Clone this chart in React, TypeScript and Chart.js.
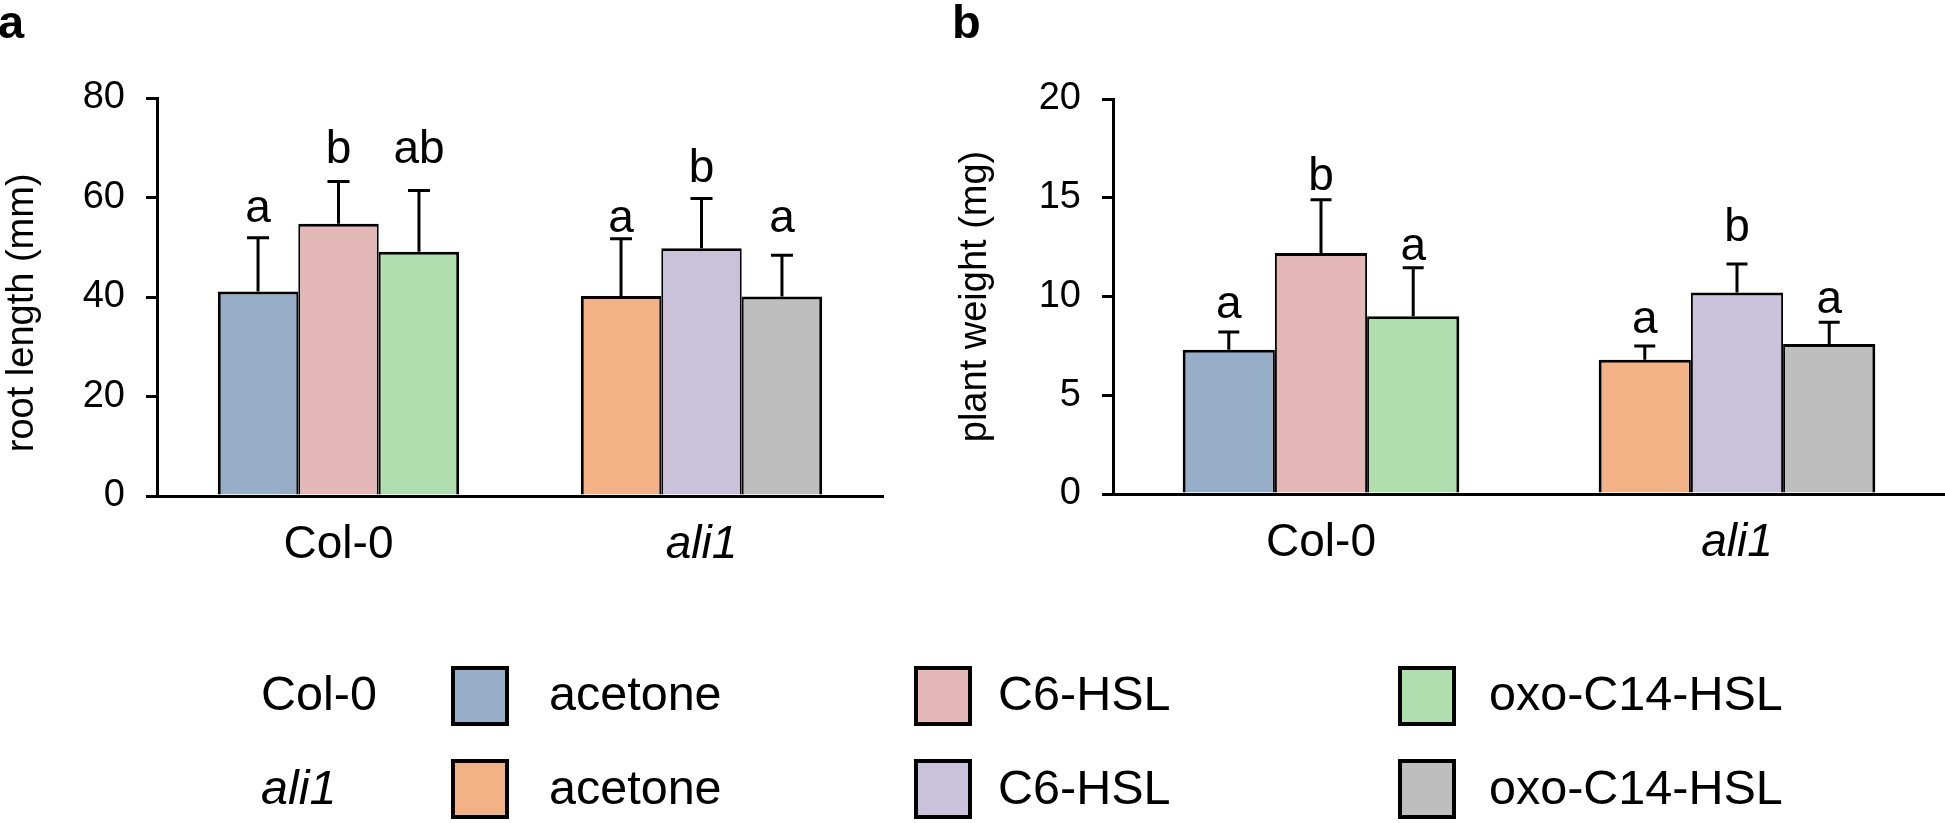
import React, { useEffect, useRef } from "react";
import { Chart, registerables } from "chart.js";

Chart.register(...registerables);

const FONT = '"Liberation Sans", Arial, Helvetica, sans-serif';

// ---------- data ----------
const categories = ["Col-0", "ali1"];
const treatments = ["acetone", "C6-HSL", "oxo-C14-HSL"];

// fill colours: [treatment] -> [Col-0, ali1]
const acetoneColors = ["#97AEC8", "#F2B286"];
const c6Colors = ["#E5B8B8", "#CAC1DA"];
const oxoColors = ["#B0DEAE", "#BEBEBE"];

// panel a: root length (mm)
const rootAcetone = [41.1, 40.2];
const rootC6 = [54.7, 49.8];
const rootOxo = [49.1, 40.1];
const rootErrAcetone = [10.8, 11.5];
const rootErrC6 = [8.5, 10.0];
const rootErrOxo = [12.3, 8.3];
const rootLettersAcetone = ["a", "a"];
const rootLettersC6 = ["b", "b"];
const rootLettersOxo = ["ab", "a"];
const rootLetterPosAcetone = [55.1, 53.1];
const rootLetterPosC6 = [66.9, 63.2];
const rootLetterPosOxo = [66.9, 53.0];
const rootTicks = { min: 0, max: 80, step: 20 };

// panel b: plant weight (mg)
const weightAcetone = [7.3, 6.8];
const weightC6 = [12.2, 10.2];
const weightOxo = [9.0, 7.6];
const weightErrAcetone = [0.9, 0.7];
const weightErrC6 = [2.7, 1.45];
const weightErrOxo = [2.45, 1.1];
const weightLettersAcetone = ["a", "a"];
const weightLettersC6 = ["b", "b"];
const weightLettersOxo = ["a", "a"];
const weightLetterPosAcetone = [8.9, 8.15];
const weightLetterPosC6 = [15.4, 12.8];
const weightLetterPosOxo = [11.85, 9.15];
const weightTicks = { min: 0, max: 20, step: 5 };

// legend
const legendRows = ["Col-0", "ali1"];
const legendColors = [
  [acetoneColors[0], c6Colors[0], oxoColors[0]],
  [acetoneColors[1], c6Colors[1], oxoColors[1]],
];

// ---------- plugin ----------
const errLettersPlugin = {
  id: "errLetters",
  afterDatasetsDraw(chart: any, _args: any, opts: any) {
    const { ctx } = chart;
    const yScale = chart.scales.y;
    chart.data.datasets.forEach((ds: any, di: number) => {
      const meta = chart.getDatasetMeta(di);
      meta.data.forEach((bar: any, i: number) => {
        const v = ds.data[i];
        const top = yScale.getPixelForValue(v + opts.errors[di][i]);
        const x = bar.x;
        ctx.save();
        ctx.strokeStyle = "#000";
        ctx.lineWidth = 3;
        ctx.beginPath();
        ctx.moveTo(x, bar.y);
        ctx.lineTo(x, top);
        ctx.moveTo(x - opts.cap, top);
        ctx.lineTo(x + opts.cap, top);
        ctx.stroke();
        ctx.fillStyle = "#000";
        ctx.font = `46px ${FONT}`;
        ctx.textAlign = "center";
        ctx.textBaseline = "alphabetic";
        ctx.fillText(opts.letters[di][i], x, yScale.getPixelForValue(opts.letterPos[di][i]));
        ctx.restore();
      });
    });
  },
};

type PanelProps = {
  left: number;
  width: number;
  height: number;
  yWidth: number;
  top: number;
  bottom: number;
  padRight: number;
  title: string;
  titlePad: number;
  values: number[][];
  errors: number[][];
  letters: string[][];
  letterPos: number[][];
  ticks: { min: number; max: number; step: number };
  cap: number;
};

function Panel(p: PanelProps) {
  const ref = useRef<HTMLCanvasElement>(null);
  useEffect(() => {
    if (!ref.current) return;
    const colorSets = [acetoneColors, c6Colors, oxoColors];
    const bw = [
      { top: 3, left: 3, right: 2, bottom: 0 },
      { top: 3, left: 2, right: 2, bottom: 0 },
      { top: 3, left: 2, right: 3, bottom: 0 },
    ];
    const chart = new Chart(ref.current, {
      type: "bar",
      data: {
        labels: categories,
        datasets: treatments.map((t, i) => ({
          label: t,
          data: p.values[i],
          backgroundColor: colorSets[i],
          borderColor: "#000",
          borderWidth: bw[i],
          borderSkipped: false,
          categoryPercentage: 0.665,
          barPercentage: 1,
        })),
      },
      options: {
        responsive: false,
        animation: false,
        devicePixelRatio: 1,
        layout: { padding: { top: p.top, right: p.padRight, left: 0, bottom: 0 } },
        plugins: {
          legend: { display: false },
          tooltip: { enabled: false },
          errLetters: { errors: p.errors, letters: p.letters, letterPos: p.letterPos, cap: p.cap },
        } as any,
        scales: {
          x: {
            grid: { display: false, drawTicks: false },
            border: { display: true, color: "#000", width: 3 },
            ticks: {
              color: "#000",
              padding: 22,
              font: (c: any) => ({ family: FONT, size: 46, style: c.index === 1 ? "italic" : "normal" }),
            },
            afterFit: (s: any) => {
              s.height = p.height - p.bottom;
            },
          },
          y: {
            min: p.ticks.min,
            max: p.ticks.max,
            grid: { drawOnChartArea: false, drawTicks: true, tickLength: 11, color: "#000", lineWidth: 3 },
            border: { display: true, color: "#000", width: 3 },
            ticks: { stepSize: p.ticks.step, color: "#000", padding: 21, font: { family: FONT, size: 38 } },
            title: {
              display: true,
              text: p.title,
              color: "#000",
              font: { family: FONT, size: 38 },
              padding: { top: p.titlePad, bottom: 0 },
            },
            afterFit: (s: any) => {
              s.width = p.yWidth;
            },
          },
        },
      },
      plugins: [errLettersPlugin],
    } as any);
    return () => chart.destroy();
  }, []);
  return (
    <canvas
      ref={ref}
      width={p.width}
      height={p.height}
      style={{ position: "absolute", left: p.left, top: 0, width: p.width, height: p.height, display: "block" }}
    />
  );
}

const textStyle = (left: number, baseline: number, size: number, extra: any = {}) => ({
  position: "absolute" as const,
  left,
  top: baseline - 0.8465 * size,
  fontFamily: FONT,
  fontSize: size,
  lineHeight: `${size}px`,
  color: "#000",
  whiteSpace: "nowrap" as const,
  ...extra,
});

export default function App() {
  const rowBaselines = [710, 804];
  const boxTops = [666, 759];
  const boxLefts = [451, 914, 1398];
  const textLefts = [549, 998, 1489];
  const LEG = 48.5;
  return (
    <div
      style={{
        position: "absolute",
        left: 0,
        top: 0,
        width: 1945,
        height: 823,
        background: "#fff",
        overflow: "hidden",
      }}
    >
      <Panel
        left={0}
        width={945}
        height={600}
        yWidth={157}
        top={98}
        bottom={496}
        padRight={62}
        title="root length (mm)   "
        titlePad={0}
        values={[rootAcetone, rootC6, rootOxo]}
        errors={[rootErrAcetone, rootErrC6, rootErrOxo]}
        letters={[rootLettersAcetone, rootLettersC6, rootLettersOxo]}
        letterPos={[rootLetterPosAcetone, rootLetterPosC6, rootLetterPosOxo]}
        ticks={rootTicks}
        cap={11}
      />
      <Panel
        left={945}
        width={1000}
        height={600}
        yWidth={168}
        top={99}
        bottom={494}
        padRight={0}
        title="plant weight (mg)"
        titlePad={8}
        values={[weightAcetone, weightC6, weightOxo]}
        errors={[weightErrAcetone, weightErrC6, weightErrOxo]}
        letters={[weightLettersAcetone, weightLettersC6, weightLettersOxo]}
        letterPos={[weightLetterPosAcetone, weightLetterPosC6, weightLetterPosOxo]}
        ticks={weightTicks}
        cap={10.5}
      />
      <div style={textStyle(-2, 38, 47, { fontWeight: "bold" })}>a</div>
      <div style={textStyle(952, 38, 47, { fontWeight: "bold" })}>b</div>
      {legendRows.map((row, r) => (
        <React.Fragment key={row}>
          <div style={textStyle(261, rowBaselines[r], LEG, { fontStyle: r === 1 ? "italic" : "normal" })}>{row}</div>
          {treatments.map((t, c) => (
            <React.Fragment key={t}>
              <div
                style={{
                  position: "absolute",
                  left: boxLefts[c],
                  top: boxTops[r],
                  width: 58,
                  height: 60,
                  boxSizing: "border-box",
                  border: "4px solid #000",
                  background: legendColors[r][c],
                }}
              />
              <div style={textStyle(textLefts[c], rowBaselines[r], LEG)}>{t}</div>
            </React.Fragment>
          ))}
        </React.Fragment>
      ))}
    </div>
  );
}
